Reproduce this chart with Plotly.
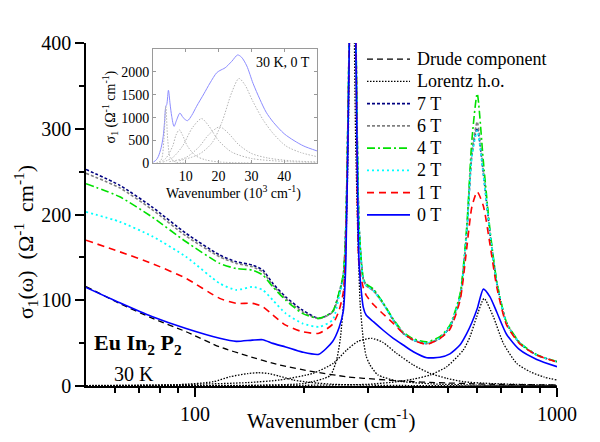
import math
import plotly.graph_objects as go

# ---------------- main panel data ----------------
wn = [50, 62, 76, 94.5, 117, 130, 144, 154, 164, 178,
      198, 220, 240, 250, 257, 261, 266.5, 272, 278.5, 284,
      291.6, 297, 311, 331, 353, 376, 401, 437, 475, 506,
      540, 563, 582, 602, 626, 653, 682, 726, 790, 879, 1000]

s7T = [252.5, 234, 209, 178, 152.7, 144.9, 141, 135.2, 119.7, 104,
       88.6, 78.9, 86.6, 108, 130, 185, 400, 800, 400, 185,
       125, 118, 112, 96.4, 77, 61.4, 53.6, 49.5, 55.6, 69,
       104, 178, 270, 301, 248, 178, 119.7, 73, 49.7, 36.1, 28.3]
s6T = [248, 231, 206, 174.8, 150.7, 143, 139, 133, 117.7, 102,
       86.6, 78.5, 86, 107, 129, 184, 400, 800, 400, 184,
       124, 117, 111, 96, 77, 61.4, 53.6, 49.5, 55.6, 69,
       104, 178, 272, 308, 250, 178, 119.7, 73, 49.7, 36.1, 28.3]
s4T = [236, 220.6, 197.3, 168.2, 143, 137, 135.2, 129.4, 115.7, 100.2,
       84.7, 78.9, 87, 109, 131, 186, 400, 800, 400, 186,
       126, 119, 113, 97, 78, 63, 55, 51.5, 57.5, 71,
       108, 185, 287, 341, 262, 182, 122, 74, 50.5, 36.5, 28.5]
s2T = [203, 191.5, 174.8, 150.7, 119.7, 112, 115.7, 112, 100.2, 84.7,
       73, 69, 77, 104, 125, 182, 400, 800, 400, 184,
       124, 117, 111, 96, 77, 61.4, 53.6, 50, 56, 69.5,
       104, 178, 268, 298, 246, 178, 119.7, 73, 49.7, 36.1, 28.3]
s1T = [170, 156.5, 143, 125.5, 102.2, 96.4, 96.4, 92.4, 82.8, 71,
       63.3, 61.5, 72, 88, 110, 170, 380, 700, 400, 140,
       115, 106, 95, 84, 73, 61.5, 53.6, 48.6, 55.6, 66,
       100, 160, 209, 226.5, 210, 165, 115, 71, 49, 36, 28]
s0T = [115, 97, 81, 67, 55.6, 52, 53.5, 54, 49.7, 45.5,
       39.5, 37, 52, 68, 88, 143, 380, 700, 380, 143,
       92, 82.8, 75, 65, 55.6, 47.8, 40, 33, 33.5, 37.5,
       48, 61, 74, 90, 113, 104, 86, 60, 42, 31, 22.5]

wn_drude = [50, 61.8, 76.4, 94.5, 116.7, 140, 171, 212, 262, 292, 350, 401, 446, 500, 600, 700, 800, 1000]
drude = [116, 96.4, 78.9, 63.3, 45.8, 35, 24.5, 16.7, 10.8, 9, 6.5, 5, 4.2, 3.5, 2.5, 1.8, 1.5, 1.2]

wn_l1 = [50, 70, 91, 112.4, 125, 140, 149.6, 160, 171, 187, 210, 241, 300, 400, 600, 1000]
l1 = [0.3, 0.6, 1.5, 5, 10.8, 14.5, 15.5, 14.5, 11.5, 7, 4, 2, 1, 0.5, 0.2, 0.1]

wn_l2 = [50, 150, 200, 236, 246, 252, 257, 261, 265, 268, 271.6, 275, 278, 282.5, 286, 291.6, 297, 304, 320, 361, 450, 600, 1000]
l2 = [0.2, 1, 3, 12, 30, 55, 95, 160, 280, 450, 900, 450, 280, 160, 95, 55, 35, 25, 13, 6, 2.5, 1, 0.3]

wn_l3 = [50, 100, 140, 171, 212, 241, 262.5, 282, 307.6, 330, 360.8, 401, 446, 496, 551, 650, 800, 1000]
l3 = [0.5, 2, 4, 7, 14.8, 26.4, 42, 52, 55.6, 51, 38, 24.5, 14.8, 9, 5, 3, 1.8, 1]

wn_l4 = [50, 200, 300, 361, 401, 446, 496, 551, 575, 600, 628.8, 667, 711, 774, 842, 920, 1000]
l4 = [0.1, 0.8, 2, 5, 8, 12.8, 22.5, 42, 57.5, 80.8, 102, 80.8, 49.7, 26.4, 16.7, 10.5, 7]

# ---------------- inset data (10^3 cm^-1) ----------------
wn_inset = [0.1, 1, 1.6, 2.5, 3.1, 3.5, 3.9, 4.2, 4.7, 5.2, 5.7, 6.4, 7.2, 8.2, 9.2, 10.5, 11.8,
            13.3, 15.5, 17.4, 19.4, 20.4, 22, 24, 25.8, 27, 28.6, 30.5, 32.6, 34.5, 36.7, 40, 43, 46, 50]
s_inset = [30, 80, 150, 350, 590, 900, 1250, 1290, 1600, 1300, 1030, 810, 950, 1100, 1000, 935, 1050,
           1250, 1520, 1760, 1980, 2030, 2090, 2230, 2370, 2320, 2130, 1750, 1400, 1120, 900, 650, 500, 380, 275]
i1_x = [1, 2.5, 3.3, 3.9, 4.5, 5.3, 7, 10]
i1 = [5, 80, 500, 1250, 500, 120, 30, 10]
i2_x = [2, 4, 6, 7, 8, 9, 10.5, 13, 16, 20, 30]
i2 = [20, 120, 380, 620, 736, 620, 380, 170, 80, 35, 10]
i3_x = [3, 6, 9, 12, 14.8, 17, 20, 24, 30, 40, 50]
i3 = [30, 130, 380, 780, 980, 820, 500, 250, 110, 45, 25]
i4_x = [5, 10, 14, 17, 20.3, 23, 26, 30, 35, 42, 50]
i4 = [40, 130, 360, 630, 800, 660, 420, 220, 120, 60, 35]
i5_x = [8, 14, 18, 21, 24, 26.2, 28, 30.5, 33.6, 36.7, 40.6, 45, 50]
i5 = [60, 200, 450, 900, 1550, 1857, 1720, 1350, 950, 650, 380, 240, 150]

legend_labels = ["Drude component", "Lorentz h.o.", "7 T", "6 T", "4 T", "2 T", "1 T", "0 T"]

FONT = "Liberation Serif"
fig = go.Figure()

# styles: (color, dash, width)
ST = {
    "Drude component": ("black", "6px,4px", 1.3),
    "Lorentz h.o.": ("black", "1.5px,1.5px", 1.3),
    "7 T": ("#000080", "3px,2px", 1.6),
    "6 T": ("#808080", "3px,2px", 1.6),
    "4 T": ("#00e000", "8px,3px,2px,3px", 1.6),
    "2 T": ("#00ffff", "2px,3px", 1.8),
    "1 T": ("#ff0000", "7px,5px", 1.6),
    "0 T": ("#0000ff", "solid", 1.6),
}


def add(x, y, key, xa="x", ya="y", smooth=0.6, color=None, dash=None, width=None, shape="spline"):
    c, d, w = ST.get(key, ("black", "solid", 1))
    fig.add_trace(go.Scatter(x=x, y=y, mode="lines", showlegend=False, hoverinfo="skip",
                             line=dict(color=color or c, dash=dash or d, width=width or w,
                                       shape=shape, smoothing=smooth),
                             xaxis=xa, yaxis=ya))


add(wn_drude, drude, "Drude component")
for xx, yy in [(wn_l1, l1), (wn_l2, l2), (wn_l3, l3), (wn_l4, l4)]:
    add(xx, yy, "Lorentz h.o.")
for key, ser in [("7 T", s7T), ("6 T", s6T), ("4 T", s4T), ("2 T", s2T), ("1 T", s1T), ("0 T", s0T)]:
    add(wn, ser, key)

# inset
add(wn_inset, s_inset, "ins", xa="x3", ya="y3", smooth=0.8, color="#8c8cff", dash="solid", width=1)
for xx, yy in [(i1_x, i1), (i2_x, i2), (i3_x, i3), (i4_x, i4), (i5_x, i5)]:
    add(xx, yy, "ic", xa="x3", ya="y3", smooth=0.8, color="#b4b4b4", dash="1.5px,1.5px", width=1)

# legend (drawn in its own small subplot so row spacing matches the reference)
for i, lab in enumerate(legend_labels):
    add([0, 1], [i, i], lab, xa="x4", ya="y4", shape="linear")

xr = [math.log10(50), 3]
xminor = [60, 70, 80, 90, 200, 300, 400, 500, 600, 700, 800, 900]
common_x = dict(type="log", range=xr, autorange=False, showgrid=False, zeroline=False,
                showline=True, linecolor="black", linewidth=1.5, tickcolor="black", tickwidth=1.5,
                tickvals=[100, 1000])
common_y = dict(range=[0, 400], autorange=False, showgrid=False, zeroline=False,
                showline=True, linecolor="black", linewidth=1.5, tickcolor="black", tickwidth=1.5,
                tickvals=[0, 100, 200, 300, 400])

fig.update_layout(
    width=600, height=442,
    margin=dict(l=86, r=43, t=43, b=56),
    paper_bgcolor="white", plot_bgcolor="rgba(0,0,0,0)",
    font=dict(family=FONT, size=20, color="black"),
    showlegend=False,
    xaxis=dict(**common_x, domain=[0, 1], anchor="y", ticks="outside", ticklen=9,
               ticktext=["100", "1000"], tickfont=dict(size=20),
               minor=dict(tickvals=xminor, ticks="outside", ticklen=5, tickwidth=1.5,
                          tickcolor="black", showgrid=False)),
    xaxis2=dict(**common_x, overlaying="x", side="top", anchor="y", ticks="inside", ticklen=6,
                showticklabels=False,
                minor=dict(tickvals=xminor, ticks="inside", ticklen=4, tickwidth=1.5,
                           tickcolor="black", showgrid=False)),
    yaxis=dict(**common_y, domain=[0, 1], anchor="x", ticks="outside", ticklen=9, tickfont=dict(size=20),
               minor=dict(dtick=50, ticks="outside", ticklen=5, tickwidth=1.5, tickcolor="black",
                          showgrid=False)),
    yaxis2=dict(**common_y, overlaying="y", side="right", anchor="x", ticks="inside", ticklen=7,
                showticklabels=False,
                minor=dict(dtick=50, ticks="inside", ticklen=4, tickwidth=1.5, tickcolor="black",
                           showgrid=False)),
    xaxis3=dict(domain=[0.1423, 0.4904], anchor="y3", range=[0, 50], autorange=False,
                tickvals=[10, 20, 30, 40], ticks="inside", ticklen=3, tickcolor="#999999",
                showline=True, linecolor="#9a9a9a", linewidth=1, mirror="ticks",
                showgrid=False, zeroline=False, tickfont=dict(size=14)),
    yaxis3=dict(domain=[0.6487, 0.9825], anchor="x3", range=[0, 2500], autorange=False,
                tickvals=[0, 500, 1000, 1500, 2000], ticks="inside", ticklen=3, tickcolor="#999999",
                showline=True, linecolor="#9a9a9a", linewidth=1, mirror="ticks",
                showgrid=False, zeroline=False, tickfont=dict(size=14)),
    xaxis4=dict(domain=[0.5966, 1.0], anchor="y4", range=[0, 4.419], autorange=False,
                visible=False, fixedrange=True),
    yaxis4=dict(domain=[0.4665, 0.9854], anchor="x4", range=[7.5, -0.5], autorange=False,
                visible=False, fixedrange=True),
)

ann = [
    dict(text="σ<sub>1</sub>(ω)  (Ω<sup>-1</sup>  cm<sup>-1</sup>)", x=-0.127, y=0.42, textangle=-90,
         font=dict(size=22)),
    dict(text="Wavenumber (cm<sup>-1</sup>)", x=0.522, y=-0.099, font=dict(size=21)),
    dict(text="<b>Eu In<sub>2</sub> P<sub>2</sub></b>", x=0.012, y=0.122, xanchor="left",
         font=dict(size=22)),
    dict(text="30 K", x=0.055, y=0.035, xanchor="left", font=dict(size=20)),
    dict(text="30 K, 0 T", x=0.4798, y=0.9417, xanchor="right", font=dict(size=14)),
    dict(text="σ<sub>1</sub> (Ω<sup>-1</sup> cm<sup>-1</sup>)", x=0.053, y=0.815, textangle=-90,
         font=dict(size=14)),
    dict(text="Wavenumber (10<sup>3</sup> cm<sup>-1</sup>)", x=0.3142, y=0.565, font=dict(size=14)),
]
for a in ann:
    a.setdefault("xanchor", "center")
    f = a.pop("font")
    f["family"] = FONT
    fig.add_annotation(xref="paper", yref="paper", showarrow=False, yanchor="middle", font=f, **a)

for i, lab in enumerate(legend_labels):
    fig.add_annotation(xref="x4", yref="y4", x=1.116, y=i, text=lab, showarrow=False,
                       xanchor="left", yanchor="middle", font=dict(family=FONT, size=18))

fig.write_html("out.html")
